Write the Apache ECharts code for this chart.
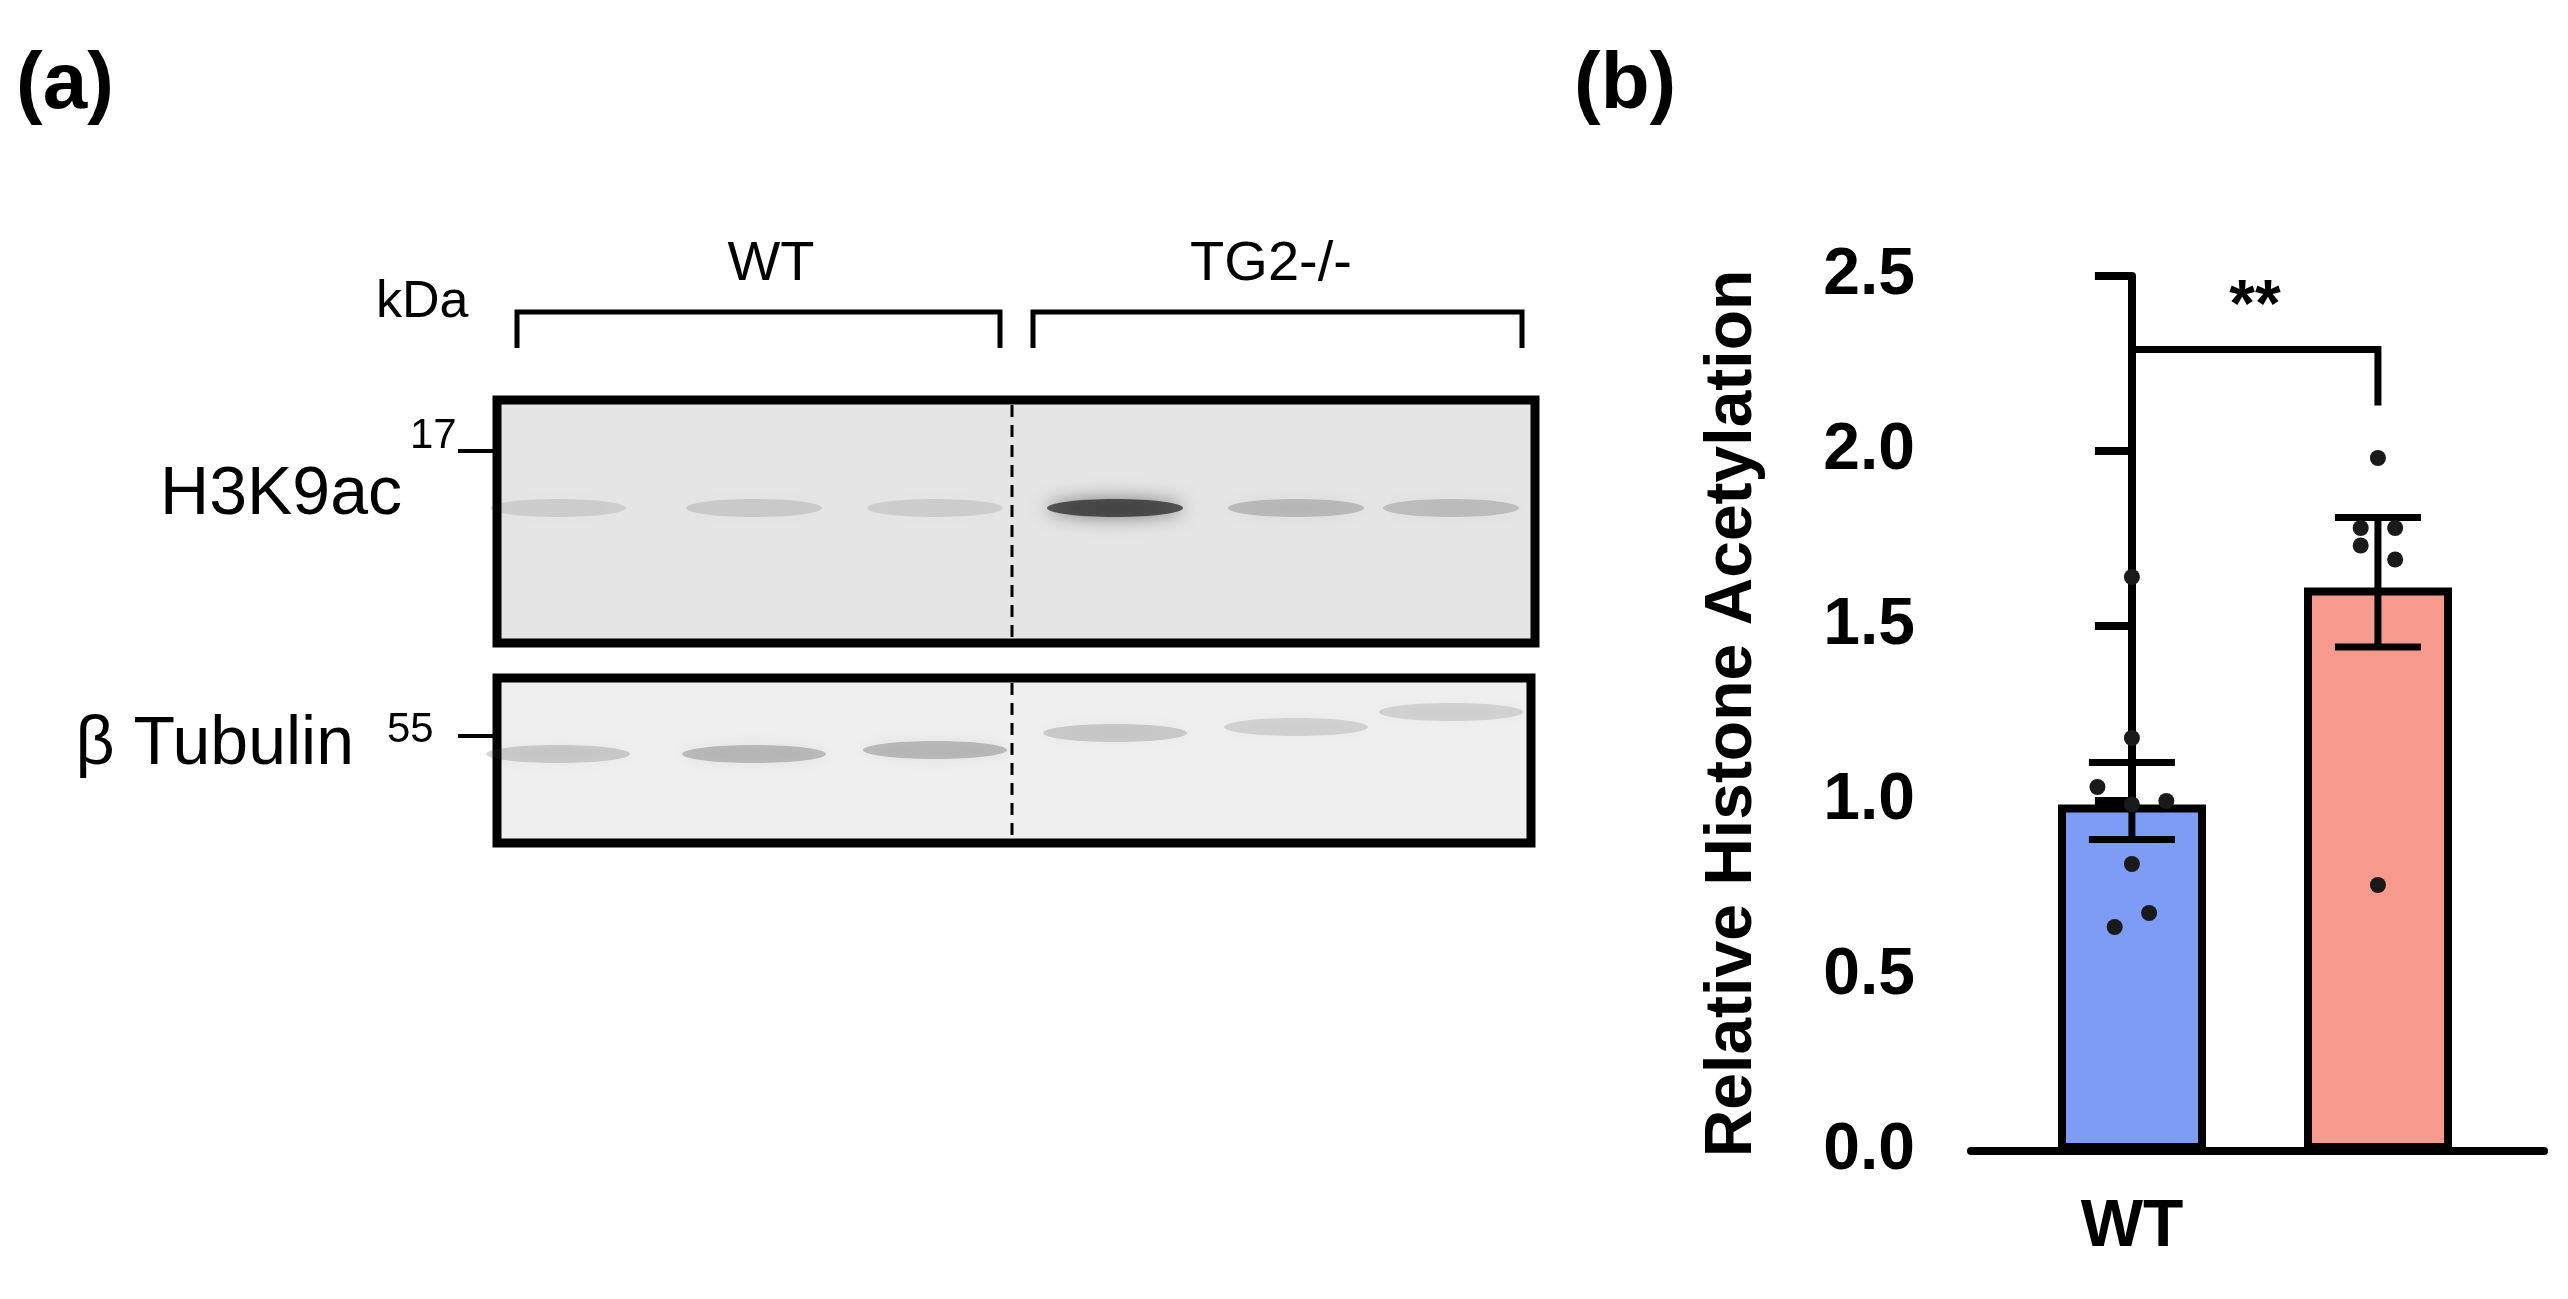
<!DOCTYPE html>
<html><head><meta charset="utf-8">
<script src="https://cdn.jsdelivr.net/npm/echarts@6/dist/echarts.min.js"></script>
<style>html,body{margin:0;padding:0;background:#fff}#c{width:2568px;height:1299px}</style>
</head><body><div id="c"></div>
<script>
const categories = ['WT', 'TG2-/-'];
const means = [0.99, 1.61];
const semLow = [0.89, 1.44];
const semHigh = [1.11, 1.81];
const wtPoints = [1.64, 1.18, 1.04, 1.00, 0.99, 0.82, 0.68, 0.64];
const wtJitter = [0, 0, -0.2, 0.2, 0, 0, 0.1, -0.1];
const tgPoints = [1.98, 1.78, 1.78, 1.73, 1.69, 0.76];
const tgJitter = [0, -0.1, 0.1, -0.1, 0.1, 0];
const yTicks = [0, 0.5, 1.0, 1.5, 2.0, 2.5];
const sigLabel = '**';
// western blot band intensities (0-1) per lane
const h3Intensity = [0.12, 0.14, 0.12, 0.75, 0.22, 0.2];
const tubIntensity = [0.2, 0.28, 0.28, 0.2, 0.16, 0.16];
const kdaLabels = ['17', '55'];

const chart = echarts.init(document.getElementById('c'));
const F = 'Liberation Sans, Arial, sans-serif';

const scatterData = [];
wtPoints.forEach((v, i) => scatterData.push([0, v, wtJitter[i]]));
tgPoints.forEach((v, i) => scatterData.push([1, v, tgJitter[i]]));

const g = [];
g.push({type:'text', x:16, y:46, style:{text:'(a)', font:'bold 80px '+F, fill:'#000'}});
g.push({type:'text', x:1574, y:46, style:{text:'(b)', font:'bold 80px '+F, fill:'#000'}});
g.push({type:'text', x:376, y:303, style:{text:'kDa', font:'52px '+F, fill:'#000', textVerticalAlign:'middle'}});
g.push({type:'text', x:771, y:265, style:{text:'WT', font:'56px '+F, fill:'#000', textAlign:'center', textVerticalAlign:'middle'}});
g.push({type:'text', x:1271, y:265, style:{text:'TG2-/-', font:'56px '+F, fill:'#000', textAlign:'center', textVerticalAlign:'middle'}});
g.push({type:'polyline', shape:{points:[[517,348],[517,312],[1000,312],[1000,348]]}, style:{stroke:'#000', lineWidth:5, fill:null}});
g.push({type:'polyline', shape:{points:[[1033,348],[1033,312],[1522,312],[1522,348]]}, style:{stroke:'#000', lineWidth:5, fill:null}});
g.push({type:'rect', shape:{x:497, y:400, width:1038, height:243}, style:{fill:'#e5e5e5', stroke:'#000', lineWidth:9}});
g.push({type:'rect', shape:{x:497, y:678, width:1034, height:165}, style:{fill:'#efefef', stroke:'#000', lineWidth:9}});
g.push({type:'line', shape:{x1:1012, y1:405, x2:1012, y2:639}, style:{stroke:'#000', lineWidth:3, lineDash:[12,8]}});
g.push({type:'line', shape:{x1:1012, y1:683, x2:1012, y2:839}, style:{stroke:'#000', lineWidth:3, lineDash:[12,8]}});
const laneX = [558, 754, 935, 1115, 1296, 1451];
const tubY = [754, 754, 750, 733, 727, 712];
laneX.forEach((x, i) => {
  const a = h3Intensity[i];
  g.push({type:'ellipse', shape:{cx:x, cy:508, rx:68, ry:9}, style:{fill:'rgba(40,40,40,'+a+')', shadowBlur:18, shadowColor:'rgba(40,40,40,'+a+')'}});
  const b = tubIntensity[i];
  g.push({type:'ellipse', shape:{cx:x, cy:tubY[i], rx:72, ry:9}, style:{fill:'rgba(60,60,60,'+b+')', shadowBlur:14, shadowColor:'rgba(60,60,60,'+b+')'}});
});
g.push({type:'line', shape:{x1:458, y1:451, x2:495, y2:451}, style:{stroke:'#000', lineWidth:4}});
g.push({type:'line', shape:{x1:458, y1:736, x2:495, y2:736}, style:{stroke:'#000', lineWidth:4}});
g.push({type:'text', x:410, y:436, style:{text:kdaLabels[0], font:'42px '+F, fill:'#000', textVerticalAlign:'middle'}});
g.push({type:'text', x:387, y:730, style:{text:kdaLabels[1], font:'42px '+F, fill:'#000', textVerticalAlign:'middle'}});
g.push({type:'text', x:402, y:495, style:{text:'H3K9ac', font:'68px '+F, fill:'#000', textAlign:'right', textVerticalAlign:'middle'}});
g.push({type:'text', x:354, y:745, style:{text:'β Tubulin', font:'68px '+F, fill:'#000', textAlign:'right', textVerticalAlign:'middle'}});

const axisStyle = {color:'#000', width:8};
const lbl = {color:'#000', fontWeight:'bold', fontSize:66, fontFamily:F};

chart.setOption({
  animation:false,
  graphic: g,
  grid:[
    {left:1971, top:276, width:573, height:875},
    {left:2009, top:276, width:492, height:875}
  ],
  xAxis:[
    {type:'value', gridIndex:0, min:-0.654, max:1.675,
     axisLine:{show:true, lineStyle:axisStyle}, axisTick:{show:false}, axisLabel:{show:false}, splitLine:{show:false}},
    {type:'category', gridIndex:1, data:categories, position:'bottom',
     axisLine:{show:false},
     axisTick:{alignWithLabel:true, length:37, lineStyle:axisStyle},
     axisLabel:Object.assign({margin:44}, lbl)}
  ],
  yAxis:[
    {type:'value', gridIndex:0, min:0, max:2.5, interval:0.5,
     name:'Relative Histone Acetylation', nameLocation:'middle', nameGap:205,
     nameTextStyle:lbl,
     axisLine:{show:true, lineStyle:axisStyle},
     axisTick:{show:true, length:37, lineStyle:axisStyle},
     splitLine:{show:false},
     axisLabel:Object.assign({margin:56, formatter:v => yTicks.includes(v) ? v.toFixed(1) : ''}, lbl)},
    {type:'value', gridIndex:1, min:0, max:2.5, show:false}
  ],
  series:[
    {type:'bar', xAxisIndex:1, yAxisIndex:1,
     data:means.map((v,i)=>({value:v, itemStyle:{color:i===0?'#7d9cf5':'#f59a8d'}})),
     barWidth:148, itemStyle:{borderColor:'#000', borderWidth:8}, z:2},
    {type:'custom', xAxisIndex:0, yAxisIndex:0, z:4, data:categories.map((c,i)=>[i, semLow[i], semHigh[i]]),
     renderItem:(p, api) => {
       const lo = api.coord([api.value(0), api.value(1)]);
       const hi = api.coord([api.value(0), api.value(2)]);
       const w = 43, s = {stroke:'#000', lineWidth:7};
       return {type:'group', children:[
         {type:'line', shape:{x1:lo[0], y1:lo[1], x2:hi[0], y2:hi[1]}, style:s},
         {type:'line', shape:{x1:lo[0]-w, y1:lo[1], x2:lo[0]+w, y2:lo[1]}, style:s},
         {type:'line', shape:{x1:hi[0]-w, y1:hi[1], x2:hi[0]+w, y2:hi[1]}, style:s}]};
     }},
    {type:'custom', xAxisIndex:0, yAxisIndex:0, z:5, data:scatterData,
     renderItem:(p, api) => {
       const c = api.coord([api.value(0) + api.value(2) * 0.7, api.value(1)]);
       return {type:'circle', shape:{cx:c[0], cy:c[1], r:8}, style:{fill:'#1a1a1a'}};
     }},
    {type:'custom', xAxisIndex:0, yAxisIndex:0, z:5, data:[[0, 1, 2.29, 2.13]],
     renderItem:(p, api) => {
       const a = api.coord([api.value(0), api.value(2)]);
       const b = api.coord([api.value(1), api.value(2)]);
       const yb = api.coord([0, api.value(3)])[1];
       return {type:'group', children:[
         {type:'polyline', shape:{points:[[a[0], yb],[a[0], a[1]],[b[0], a[1]],[b[0], yb]]}, style:{stroke:'#000', lineWidth:7, fill:null}},
         {type:'text', x:(a[0]+b[0])/2, y:a[1]-42, style:{text:sigLabel, font:'bold 66px '+F, fill:'#000', textAlign:'center', textVerticalAlign:'middle'}}]};
     }}
  ]
});
</script></body></html>
